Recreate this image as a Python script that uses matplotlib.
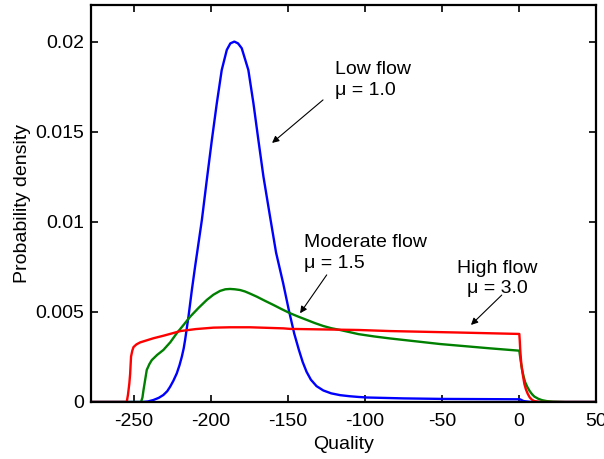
import matplotlib
matplotlib.use('Agg')
import matplotlib.pyplot as plt

plt.rcParams['font.family'] = ['Liberation Sans', 'DejaVu Sans']
plt.rcParams['font.size'] = 14
plt.rcParams['axes.unicode_minus'] = False

# values
low_x = [-278, -245, -241, -237.5, -234, -231, -228.5, -226.6, -224.5, -222.3, -220.5, -219,
         -217.8, -216.9, -214.7, -212.5, -210.4, -208.9, -206, -202.8, -199.5, -196.3, -193.1,
         -189.8, -187.5, -184.9, -182.5, -180.1, -175.8, -172.5, -169.3, -166, -161.7, -157.8,
         -153.2, -149.5, -146, -143, -140.5, -138, -135.2, -131.5, -127.1, -122, -116.2, -110,
         -104.3, -98.9, -75, -49.2, -25, 0.6, 3, 8, 50]
low_y = [0, 0, 0.00003, 0.00011, 0.00023, 0.00039, 0.0006, 0.00085, 0.00118, 0.00159, 0.00205,
         0.00252, 0.00298, 0.00344, 0.00474, 0.00622, 0.00752, 0.0084, 0.01011, 0.01233, 0.01456,
         0.01659, 0.01844, 0.01956, 0.01992, 0.02002, 0.01992, 0.01965, 0.01844, 0.01659, 0.01456,
         0.01252, 0.01029, 0.0083, 0.0066, 0.0051, 0.0038, 0.0029, 0.00222, 0.00168, 0.00124,
         0.00088, 0.00064, 0.00048, 0.00038, 0.00032, 0.00028, 0.00025, 0.0002, 0.00017, 0.00016,
         0.00015, 0.00005, 0, 0]

mod_x = [-278, -245.5, -244.6, -243.9, -242.8, -241.8, -240, -238.5, -235, -231, -226.5,
         -222.3, -218, -213.6, -208, -202.8, -198.5, -194.2, -190.8, -187.7, -184.5, -181.2,
         -178, -174.7, -170.3, -165, -159.5, -154, -148.7, -143.3, -137.9, -132.5, -127.1,
         -122, -116.2, -110, -104.3, -94, -83.8, -67, -51.3, -35, -18.8, 0.2, 1, 2, 3, 4,
         5.5, 7, 8.5, 10, 12.5, 15, 18, 22, 30, 50]
mod_y = [0, 0, 0.00025, 0.00067, 0.00125, 0.00178, 0.00212, 0.00233, 0.00262, 0.00289, 0.00332,
         0.00382, 0.00427, 0.00474, 0.00524, 0.00567, 0.00596, 0.00617, 0.00626, 0.00628, 0.00626,
         0.00622, 0.00614, 0.00602, 0.00585, 0.00562, 0.00539, 0.00515, 0.00493, 0.00474, 0.00456,
         0.00438, 0.00422, 0.0041, 0.004, 0.00388, 0.00377, 0.00364, 0.00353, 0.00337, 0.00322,
         0.0031, 0.00298, 0.00285, 0.00235, 0.0018, 0.00142, 0.0011, 0.00082, 0.0006, 0.00043,
         0.0003, 0.00018, 0.0001, 0.00005, 0.00002, 0, 0]

high_x = [-278, -254.8, -254, -253.1, -252.6, -252.0, -251.2, -250.4, -248.5, -246.1, -242,
          -237.5, -231, -225, -220, -210, -198.5, -187.7, -174.7, -153, -148.7, -104.3, -83.8,
          -40, 0.2, 0.5, 0.8, 1.5, 2.5, 3.5, 4.5, 5.7, 7, 8.5, 10, 14, 50]
high_y = [0, 0, 0.0004, 0.00104, 0.00155, 0.00252, 0.00285, 0.00305, 0.0032, 0.00331, 0.00342,
          0.00354, 0.00368, 0.00382, 0.00394, 0.00405, 0.00413, 0.00415, 0.00415, 0.00409,
          0.00406, 0.004, 0.00394, 0.00386, 0.00378, 0.0034, 0.0029, 0.0021, 0.0015, 0.001,
          0.0007, 0.00045, 0.00025, 0.00012, 0.00005, 0, 0]

x_ticks = [-250, -200, -150, -100, -50, 0, 50]
y_ticks = [0, 0.005, 0.01, 0.015, 0.02]
y_labels = ['0', '0.005', '0.01', '0.015', '0.02']

fig = plt.figure(figsize=(6.04, 4.59), dpi=100)
ax = fig.add_axes([0.1507, 0.1242, 0.836, 0.8648])

ax.plot(low_x, low_y, color='#0000ff', lw=1.7)
ax.plot(mod_x, mod_y, color='#008000', lw=1.7)
ax.plot(high_x, high_y, color='#ff0000', lw=1.7)

ax.set_xlim(-278, 50)
ax.set_ylim(0, 0.02205)
ax.set_xticks(x_ticks)
ax.set_yticks(y_ticks)
ax.set_yticklabels(y_labels)
ax.tick_params(direction='in', length=5, width=1.2, top=True, right=True)
ax.tick_params(axis='x', pad=8)
ax.tick_params(axis='y', pad=5)
for s in ax.spines.values():
    s.set_linewidth(1.6)

ax.set_xlabel('Quality', labelpad=4)
ax.set_ylabel('Probability density', labelpad=3)

arrow = dict(arrowstyle='-|>', color='black', lw=0.8, mutation_scale=10, shrinkA=0, shrinkB=0)
ax.annotate('', xy=(-160.4, 0.01439), xytext=(-127.3, 0.01678), arrowprops=arrow)
ax.annotate('', xy=(-142.2, 0.00493), xytext=(-124.9, 0.00706), arrowprops=arrow)
ax.annotate('', xy=(-31.2, 0.00428), xytext=(-11.2, 0.00594), arrowprops=arrow)

ax.text(-119.5, 0.0179, 'Low flow\nμ = 1.0', ha='left', va='center', linespacing=1.3)
ax.text(-139.5, 0.00826, 'Moderate flow\nμ = 1.5', ha='left', va='center', linespacing=1.3)
ax.text(-14, 0.00686, 'High flow\nμ = 3.0', ha='center', va='center', linespacing=1.3)

fig.savefig('out.png', dpi=100)
